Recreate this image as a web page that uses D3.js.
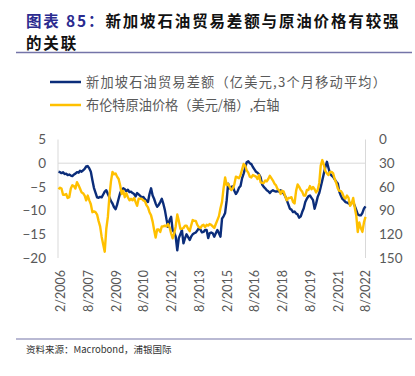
<!DOCTYPE html>
<html><head><meta charset="utf-8">
<script src="https://cdn.jsdelivr.net/npm/d3@7"></script>
<style>
body{margin:0;background:#fff;}
svg{display:block;}
</style></head>
<body>
<svg id="c" width="415" height="376"></svg>
<script>
// Monthly data from Jan 2006 to Aug 2022
const startYear = 2006, startMonth = 0;
const tradeBalance = [
-1.8,-1.9,-2.1,-1.9,-2.3,-2.2,-2.5,-2.4,-2.6,-2.7,-2.4,-2.2,
-1.9,-2.0,-1.6,-1.8,-1.5,-1.2,-0.7,-0.6,-1.1,-1.8,-3.6,-5.2,
-6.2,-7.2,-7.3,-7.1,-7.2,-6.6,-6.0,-5.7,-6.5,-7.2,-8.0,-8.5,
-9.3,-9.7,-8.8,-7.5,-6.3,-5.6,-5.3,-5.5,-5.9,-5.6,-6.1,-6.0,
-6.3,-6.5,-7.0,-6.3,-6.6,-6.9,-7.2,-7.1,-7.6,-7.9,-8.2,-6.5,
-5.3,-6.8,-7.5,-8.5,-9.2,-8.8,-8.2,-7.5,-8.6,-9.9,-11.8,-13.4,
-12.0,-11.3,-14.1,-14.6,-15.5,-18.4,-15.8,-15.0,-14.1,-16.9,-15.8,-15.0,
-15.6,-16.2,-15.5,-15.0,-14.8,-14.6,-14.2,-13.7,-14.0,-14.6,-14.5,-14.1,
-14.1,-15.8,-14.8,-14.6,-14.8,-15.5,-14.8,-14.1,-14.8,-15.5,-11.7,-11.2,
-10.5,-7.8,-4.3,-5.3,-5.0,-4.9,-5.8,-6.5,-6.0,-5.2,-4.8,-3.2,
-2.2,-1.0,0.2,0.4,0.0,-0.2,-0.8,-1.3,-1.8,-2.0,-2.4,-3.0,
-4.5,-5.0,-5.3,-5.7,-5.9,-6.3,-5.9,-5.7,-5.9,-6.0,-5.9,-6.0,
-5.7,-6.2,-6.4,-7.0,-7.8,-8.7,-9.6,-9.8,-10.3,-10.2,-10.6,-10.8,
-11.5,-11.2,-10.3,-9.5,-8.2,-7.5,-7.0,-6.8,-7.3,-7.8,-9.6,-8.5,
-7.1,-6.3,-5.0,-3.6,-2.2,-0.8,0.3,-1.0,-2.2,-2.6,-2.9,-3.4,
-3.9,-4.3,-6.0,-6.8,-7.5,-7.8,-8.2,-8.3,-8.5,-8.5,-8.3,-8.2,
-9.0,-9.9,-10.8,-11.0,-11.0,-10.5,-9.6,-9.1
];
const brentPrice = [
63,61,62,70,70,69,74,73,62,58,59,62,
54,58,62,67,68,71,77,71,77,82,92,91,
92,95,103,110,123,133,142,113,98,72,53,41,
44,43,47,50,58,69,65,73,68,73,77,75,
77,74,79,84,75,75,75,77,78,83,86,92,
96,104,114,124,114,114,117,110,110,109,110,107,
111,119,125,119,110,95,103,113,113,112,109,109,
113,116,109,102,103,103,108,111,112,109,108,111,
108,109,107,108,110,112,107,102,97,87,79,62,
48,58,56,60,64,62,57,47,48,49,45,38,
31,33,39,42,47,48,45,46,47,50,45,54,
55,55,52,53,50,46,49,52,56,58,63,64,
69,65,66,72,77,74,74,73,79,81,65,57,
60,64,66,71,71,64,64,59,63,60,63,67,
64,55,33,26,32,40,43,45,41,41,43,50,
55,62,65,65,68,73,75,71,74,84,81,74,
86,97,117,105,112,117,105,98
];
const leftTicks = [5, 0, -5, -10, -15, -20];
const rightTicks = [0, 30, 60, 90, 120, 150];
const xTickLabels = ["2/2006","8/2007","2/2009","8/2010","2/2012","8/2013","2/2015","8/2016","2/2018","8/2019","2/2021","8/2022"];
const seriesNames = ["新加坡石油贸易差额（亿美元,3个月移动平均）", "布伦特原油价格（美元/桶）,右轴"];
const titleLines = ["新加坡石油贸易差额与原油价格有较强", "的关联"];
const titlePrefix = "图表 85：";
const sourceText = "资料来源：Macrobond，浦银国际";

const dates = tradeBalance.map((d,i)=> new Date(startYear, startMonth + i, 1));
const parseTick = s => { const [m,y] = s.split("/").map(Number); return new Date(y, m-1, 1); };

const svg = d3.select("#c");
const navy = "#0b2d7a", gold = "#ffc000", grey = "#595959", rule = "#7474a8";
const cjk = "'Noto Sans CJK SC', sans-serif";
const num = "Lato, 'Open Sans', sans-serif";

// Title
const t1 = svg.append("text").attr("x", 26).attr("y", 27)
  .attr("font-family", cjk).attr("font-size", 15.5).attr("font-weight", "bold")
  .style("letter-spacing", "1.85px");
t1.append("tspan").attr("fill", "#2b2b8f").text(titlePrefix);
t1.append("tspan").attr("fill", "#111").text(titleLines[0]);
svg.append("text").attr("x", 26).attr("y", 49)
  .attr("font-family", cjk).attr("font-size", 15.5).attr("font-weight", "bold").attr("fill", "#111")
  .style("letter-spacing", "1.85px").text(titleLines[1]);
svg.append("line").attr("x1", 16).attr("x2", 412).attr("y1", 52.5).attr("y2", 52.5)
  .attr("stroke", rule).attr("stroke-width", 1.5);

// Legend
const legendColors = [navy, gold];
const legendSpacing = [1.2, 0];
seriesNames.forEach((n,i)=>{
  const y = 82 + i*23;
  svg.append("line").attr("x1", 50).attr("x2", 81).attr("y1", y).attr("y2", y)
    .attr("stroke", legendColors[i]).attr("stroke-width", 2.5);
  svg.append("text").attr("x", 86).attr("y", y + 5).attr("font-family", cjk)
    .attr("font-size", 13.2).attr("fill", grey)
    .style("letter-spacing", legendSpacing[i] + "px").text(n);
});

// Scales
const x = d3.scaleTime().domain([dates[0], dates[dates.length-1]]).range([58.5, 365.5]);
const yL = d3.scaleLinear().domain([-20, 5]).range([258, 139.5]);
const yR = d3.scaleLinear().domain([0, 150]).range([139.5, 258]);

// Axis lines and zero line
svg.append("line").attr("x1", 58).attr("x2", 58).attr("y1", yL(5)).attr("y2", yL(-20)).attr("stroke", "#d9d9d9");
svg.append("line").attr("x1", 365.5).attr("x2", 365.5).attr("y1", yL(5)).attr("y2", yL(-20)).attr("stroke", "#d9d9d9");
svg.append("line").attr("x1", 58).attr("x2", 365.5).attr("y1", yL(0)).attr("y2", yL(0)).attr("stroke", "#d9d9d9");

// Left ticks
const axL = d3.axisLeft(yL).tickValues(leftTicks).tickSize(0).tickPadding(0);
const gL = svg.append("g").attr("transform", "translate(46,0)").call(axL);
gL.select(".domain").remove();
gL.selectAll("text").attr("font-family", num).attr("font-size", 13.5).attr("fill", grey);

const axR = d3.axisRight(yR).tickValues(rightTicks).tickSize(0).tickPadding(0);
const gR = svg.append("g").attr("transform", "translate(379,0)").call(axR);
gR.select(".domain").remove();
gR.selectAll("text").attr("font-family", num).attr("font-size", 13.5).attr("fill", grey);

// X axis labels rotated
const axX = d3.axisBottom(x).tickValues(xTickLabels.map(parseTick)).tickSize(0).tickPadding(0)
  .tickFormat((d,i)=>xTickLabels[i]);
const gX = svg.append("g").attr("transform", "translate(0,270)").call(axX);
gX.select(".domain").remove();
gX.selectAll("text").attr("font-family", num).attr("font-size", 12.5).attr("fill", grey)
  .attr("text-anchor", "end").attr("transform", "rotate(-90)").attr("dy", "0.35em").attr("dx", 0).attr("x", 0).attr("y", 0);

// Lines
const lineL = d3.line().x((d,i)=>x(dates[i])).y(d=>yL(d));
const lineR = d3.line().x((d,i)=>x(dates[i])).y(d=>yR(d));
svg.append("path").datum(tradeBalance).attr("d", lineL).attr("fill","none").attr("stroke", navy).attr("stroke-width", 2.4).attr("stroke-linejoin","round");
svg.append("path").datum(brentPrice).attr("d", lineR).attr("fill","none").attr("stroke", gold).attr("stroke-width", 2.4).attr("stroke-linejoin","round");

// Footer
svg.append("line").attr("x1", 16).attr("x2", 412).attr("y1", 339).attr("y2", 339).attr("stroke", rule).attr("stroke-width", 1.2);
svg.append("text").attr("x", 26).attr("y", 353).attr("font-family", cjk).attr("font-size", 9.5).attr("fill", "#333").text(sourceText);
</script>
</body></html>
